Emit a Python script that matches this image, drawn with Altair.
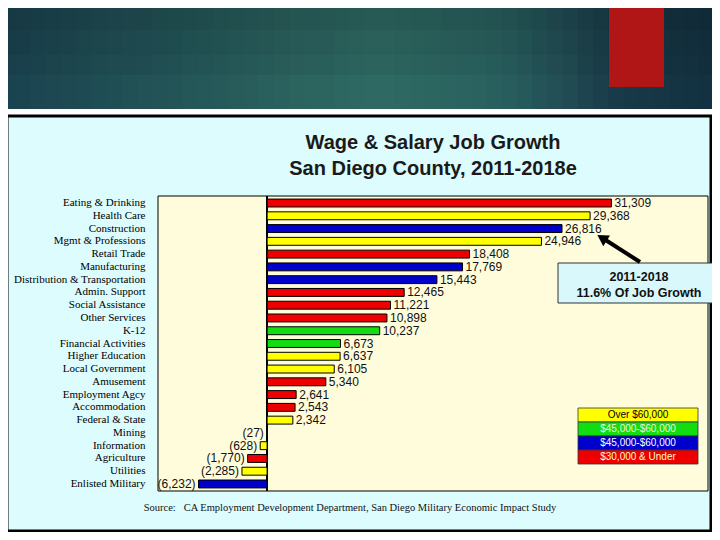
import altair as alt
import pandas as pd

# ---------------- data ----------------
categories = [
    "Eating & Drinking", "Health Care", "Construction", "Mgmt & Professions",
    "Retail Trade", "Manufacturing", "Distribution & Transportation",
    "Admin. Support", "Social Assistance", "Other Services", "K-12",
    "Financial Activities", "Higher Education", "Local Government",
    "Amusement", "Employment Agcy", "Accommodation", "Federal & State",
    "Mining", "Information", "Agriculture", "Utilities", "Enlisted Military",
]
values = [31309, 29368, 26816, 24946, 18408, 17769, 15443, 12465, 11221,
          10898, 10237, 6673, 6637, 6105, 5340, 2641, 2543, 2342,
          -27, -628, -1770, -2285, -6232]
wage_group = ["low", "high", "mid", "high", "low", "mid", "mid", "low", "low",
              "low", "upper", "upper", "high", "high", "low", "low", "low", "high",
              "high", "high", "low", "high", "mid"]

group_colors = {"high": "#ffff00", "upper": "#11dd11", "mid": "#0000cc", "low": "#ee0000"}

legend_labels = ["Over $60,000", "$45,000-$60,000", "$45,000-$60,000", "$30,000 & Under"]
legend_fill = ["#ffff00", "#11dd11", "#0000cc", "#ee0000"]
legend_text = ["#000000", "#f4f4e0", "#ffffff", "#ffffc8"]

title_lines = ["Wage & Salary Job Growth", "San Diego County, 2011-2018e"]
note_lines = ["2011-2018", "11.6%  Of Job Growth"]
source_text = "Source:\u00a0\u00a0 CA Employment Development Department, San Diego Military Economic Impact Study"

# header band shading key colours (page x, colour)
header_keys = [(0, (0x1a, 0x42, 0x50)), (150, (0x22, 0x52, 0x56)), (300, (0x2b, 0x63, 0x5f)),
               (380, (0x2f, 0x6a, 0x63)), (500, (0x29, 0x60, 0x5e)), (560, (0x22, 0x4e, 0x55)),
               (620, (0x18, 0x3a, 0x48)), (720, (0x13, 0x30, 0x40))]


def fmt(v):
    s = f"{abs(v):,}"
    return f"({s})" if v < 0 else s


df = pd.DataFrame({
    "cat": categories,
    "value": values,
    "color": [group_colors[g] for g in wage_group],
    "label": [fmt(v) for v in values],
    "zero": [0] * len(values),
})

one = pd.DataFrame({"k": [0]})

W, H = 550, 295
OX, OY = 158, 196  # page position of plot origin


def shade_at(px):
    for (x0, c0), (x1, c1) in zip(header_keys[:-1], header_keys[1:]):
        if x0 <= px <= x1:
            t = (px - x0) / (x1 - x0)
            return "#%02x%02x%02x" % tuple(int(round(a + (b - a) * t)) for a, b in zip(c0, c1))
    return "#%02x%02x%02x" % header_keys[-1][1]


# ---------------- decorations ----------------
header_layers = []
n_strips = 48
sw = 730 / n_strips
for i in range(n_strips):
    px = i * sw
    header_layers.append(alt.Chart(one).mark_rect(fill=shade_at(px + sw / 2)).encode(
        x=alt.value(px - OX), x2=alt.value(px + sw + 1 - OX),
        y=alt.value(-200), y2=alt.value(109 - OY)))
for y0, y1, op in [(0, 30, 0.14), (30, 55, 0.09), (55, 75, 0.05)]:
    header_layers.append(alt.Chart(one).mark_rect(fill="black", opacity=op).encode(
        x=alt.value(-OX), x2=alt.value(730 - OX), y=alt.value(y0 - OY), y2=alt.value(y1 - OY)))

red_box = alt.Chart(one).mark_rect(fill="#b01616").encode(
    x=alt.value(609 - OX), x2=alt.value(664 - OX), y=alt.value(-200), y2=alt.value(87 - OY))

panel = alt.Chart(one).mark_rect(fill="#dcfcfe", stroke="black", strokeWidth=3).encode(
    x=alt.value(-151), x2=alt.value(553), y=alt.value(-80), y2=alt.value(335))

plot_bg = alt.Chart(one).mark_rect(fill="#fffcdc", stroke="black", strokeWidth=1).encode(
    x=alt.value(0), x2=alt.value(W), y=alt.value(0), y2=alt.value(H))

xscale = alt.Scale(domain=[-9920, 40090], nice=False, zero=False)
ysc = alt.Scale(paddingInner=0.38, paddingOuter=0.24)

base = alt.Chart(df)
zero_line = base.mark_rule(color="black", strokeWidth=1).encode(
    x=alt.X("zero:Q", scale=xscale, axis=None), y=alt.value(0), y2=alt.value(H))
bars = base.mark_bar(stroke="black", strokeWidth=1).encode(
    x=alt.X("value:Q", scale=xscale, axis=None),
    y=alt.Y("cat:N", sort=categories, scale=ysc,
            axis=alt.Axis(title=None, ticks=False, domain=False, grid=False,
                          labelFont="Liberation Serif", labelFontSize=11,
                          labelColor="black", labelPadding=13, zindex=1)),
    color=alt.Color("color:N", scale=None),
)
lab_pos = base.transform_filter("datum.value >= 0").mark_text(
    align="left", baseline="middle", dx=3, font="Liberation Sans", fontSize=12, color="#111"
).encode(x="value:Q", y=alt.Y("cat:N", sort=categories), text="label:N")
lab_neg = base.transform_filter("datum.value < 0").mark_text(
    align="right", baseline="middle", dx=-3, font="Liberation Sans", fontSize=12, color="#111"
).encode(x="value:Q", y=alt.Y("cat:N", sort=categories), text="label:N")

# ---------------- custom legend ----------------
legend_layers = []
row_top, row_h = 212, 14
for i, (lab, fc, tc) in enumerate(zip(legend_labels, legend_fill, legend_text)):
    legend_layers.append(alt.Chart(one).mark_rect(fill=fc, stroke="#333", strokeWidth=0.8).encode(
        x=alt.value(420), x2=alt.value(540),
        y=alt.value(row_top + i * row_h), y2=alt.value(row_top + (i + 1) * row_h)))
    legend_layers.append(alt.Chart(one).mark_text(
        text=lab, font="Liberation Sans", fontSize=10, baseline="middle", color=tc
    ).encode(x=alt.value(480), y=alt.value(row_top + i * row_h + row_h / 2)))

# ---------------- annotation ----------------
note_box = alt.Chart(one).mark_rect(fill="#d8f8fc", stroke="#333", strokeWidth=1).encode(
    x=alt.value(400), x2=alt.value(560), y=alt.value(67), y2=alt.value(107))
note1 = alt.Chart(one).mark_text(text=note_lines[0], font="Liberation Sans", fontWeight="bold",
                                 fontSize=12.5, color="#111").encode(x=alt.value(481), y=alt.value(81))
note2 = alt.Chart(one).mark_text(text=note_lines[1], font="Liberation Sans", fontWeight="bold",
                                 fontSize=12.5, color="#111").encode(x=alt.value(481), y=alt.value(97))
arrow_line = alt.Chart(one).mark_rule(color="black", strokeWidth=4).encode(
    x=alt.value(482), x2=alt.value(446), y=alt.value(66), y2=alt.value(43))
arrow_head = alt.Chart(one).mark_point(shape="triangle-up", filled=True, color="black",
                                       size=160, angle=302, opacity=1).encode(
    x=alt.value(444), y=alt.value(42))

t1 = alt.Chart(one).mark_text(text=title_lines[0], font="Liberation Sans", fontWeight="bold",
                              fontSize=20, color="#1a1a1a").encode(x=alt.value(275), y=alt.value(-53))
t2 = alt.Chart(one).mark_text(text=title_lines[1], font="Liberation Sans", fontWeight="bold",
                              fontSize=20, color="#1a1a1a").encode(x=alt.value(275), y=alt.value(-27))
src = alt.Chart(one).mark_text(text=source_text, font="Liberation Serif", fontSize=10.5,
                               color="#111").encode(x=alt.value(192), y=alt.value(312))

chart = alt.layer(
    *header_layers, red_box, panel, plot_bg, zero_line, bars, lab_pos, lab_neg, *legend_layers,
    note_box, note1, note2, arrow_line, arrow_head, t1, t2, src,
).properties(
    width=W, height=H,
    padding={"left": 150, "top": 188, "right": 4, "bottom": 41},
    autosize=alt.AutoSizeParams(type="none"),
    background="white",
).configure_view(strokeWidth=0)

chart.save("out.html", embed_options={"renderer": "svg", "actions": False})
